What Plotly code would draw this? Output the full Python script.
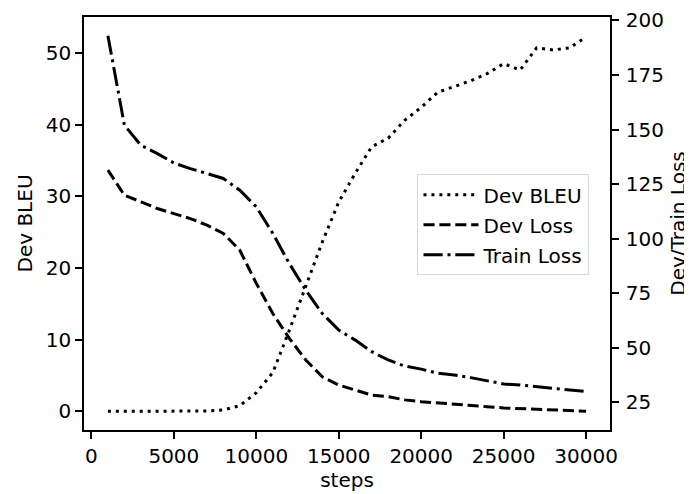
import plotly.graph_objects as go

steps = list(range(1000, 31000, 1000))

dev_bleu = [0.0, 0.0, 0.0, 0.0, 0.0, 0.0, 0.05, 0.2, 0.8, 2.6,
            5.4, 11.3, 17.6, 23.6, 29.2, 33.2, 36.9, 38.1, 40.6, 42.4,
            44.5, 45.3, 46.1, 47.1, 48.5, 47.6, 50.7, 50.4, 50.7, 52.2]

dev_loss = [131.4, 119.9, 116.9, 113.8, 111.5, 109.2, 106.2, 102.4, 94.7, 79.5,
            65.7, 54.3, 44.4, 36.7, 32.9, 30.6, 28.3, 27.6, 26.1, 25.3,
            24.8, 24.2, 23.6, 23.0, 22.4, 22.1, 21.6, 21.3, 21.0, 20.9]

train_loss = [193.0, 152.0, 142.8, 139.0, 134.7, 132.1, 129.9, 127.6, 122.2, 114.6,
              102.4, 88.6, 76.4, 65.7, 58.1, 53.5, 48.2, 44.4, 41.6, 40.2,
              38.3, 37.5, 36.3, 34.8, 33.4, 32.9, 32.1, 31.4, 30.6, 29.9]

x_ticks = [0, 5000, 10000, 15000, 20000, 25000, 30000]
y_ticks = [0, 10, 20, 30, 40, 50]
y2_ticks = [25, 50, 75, 100, 125, 150, 175, 200]

FONT = "DejaVu Sans"
LW = 3

fig = go.Figure()
fig.add_trace(go.Scatter(x=steps, y=dev_bleu, name="Dev BLEU", mode="lines",
                         line=dict(color="black", width=LW, dash="3px,4.95px"),
                         yaxis="y", legendgroup="a"))
fig.add_trace(go.Scatter(x=steps, y=dev_loss, name="Dev Loss", mode="lines",
                         line=dict(color="black", width=LW, dash="11.1px,4.8px"),
                         yaxis="y2", legendgroup="b"))
fig.add_trace(go.Scatter(x=steps, y=train_loss, name="Train Loss", mode="lines",
                         line=dict(color="black", width=LW, dash="19.2px,4.8px,3px,4.8px"),
                         yaxis="y2", legendgroup="c"))

axis_common = dict(showgrid=False, zeroline=False, showline=True, linecolor="black",
                   linewidth=1.6, ticks="outside", ticklen=7, tickwidth=1.6,
                   tickcolor="black", tickfont=dict(family=FONT, size=20, color="black"),
                   automargin=False)

# the page body has an 8px margin, so the figure is 8px smaller and shifted
fig.update_layout(
    width=684, height=486,
    margin=dict(l=76, r=82, t=9, b=64),
    paper_bgcolor="white", plot_bgcolor="white",
    font=dict(family=FONT, size=20, color="black"),
    xaxis=dict(range=[-450, 31450], tickvals=x_ticks, tickformat="d", mirror=True,
               title=dict(text="steps", font=dict(family=FONT, size=20), standoff=4),
               **axis_common),
    yaxis=dict(range=[-2.6, 55.0], tickvals=y_ticks,
               title=dict(text="Dev BLEU", font=dict(family=FONT, size=20), standoff=8),
               **axis_common),
    yaxis2=dict(range=[12.3, 201.6], tickvals=y2_ticks, overlaying="y", side="right",
                title=dict(text="Dev/Train Loss", font=dict(family=FONT, size=20), standoff=8),
                ticklabelstandoff=3,
                **axis_common),
    legend=dict(x=0.634, y=0.619, xanchor="left", yanchor="top",
                bgcolor="white", bordercolor="#d9d9d9", borderwidth=1,
                font=dict(family=FONT, size=20, color="black"),
                itemwidth=55, tracegroupgap=1),
    showlegend=True,
)

fig.write_html("out.html")
